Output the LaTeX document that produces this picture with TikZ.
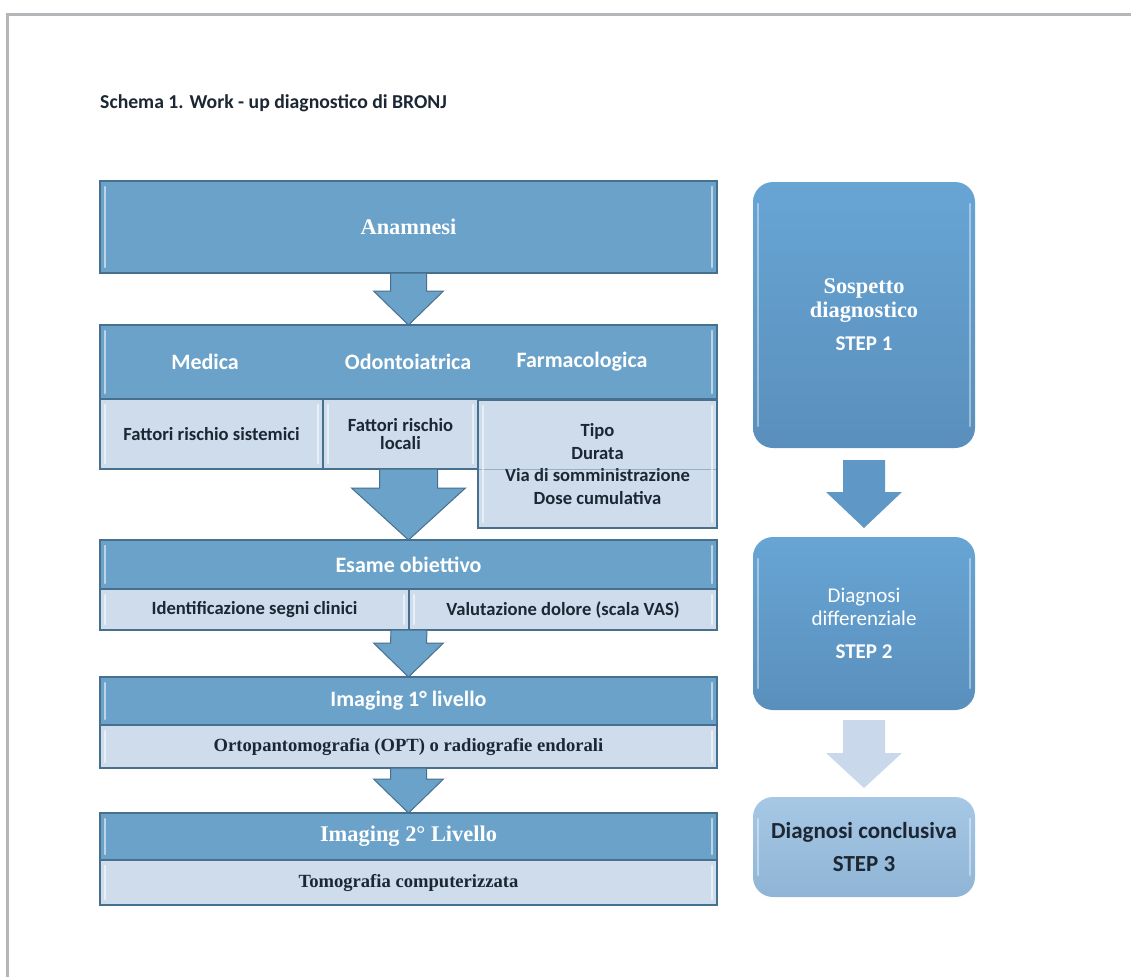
\documentclass[tikz,border=0pt]{standalone}
\usepackage{fontspec}
\newfontfamily\calfont{Carlito}
\newfontfamily\tnrfont{Liberation Serif}
\usetikzlibrary{calc}
\definecolor{hdr}{HTML}{6AA2C9}
\definecolor{cellc}{HTML}{CFDCEC}
\definecolor{edge}{HTML}{46708E}
\definecolor{darktext}{HTML}{1C2733}
\definecolor{framec}{HTML}{B4B7BA}
\definecolor{rtop}{HTML}{67A5D5}
\definecolor{rbot}{HTML}{5A8FBC}
\definecolor{ltop}{HTML}{A6C8E5}
\definecolor{lbot}{HTML}{8FB4D5}
\definecolor{rarrow}{HTML}{5F98C6}
\definecolor{larrow}{HTML}{C9D9EB}
\tikzset{
  base/.style={draw=edge, line width=1.2pt, inner sep=0pt, outer sep=0pt},
  hdrbox/.style={base, fill=hdr, text=white},
  cellbox/.style={base, fill=cellc, text=darktext},
  calhead/.style={font=\calfont\bfseries\fontsize{22}{24}\selectfont},
  tnrhead/.style={font=\tnrfont\bfseries\fontsize{22.4}{24}\selectfont},
  calsub/.style={font=\calfont\bfseries\fontsize{18.6}{18}\selectfont},
  tnrsub/.style={font=\tnrfont\bfseries\fontsize{18.6}{20}\selectfont},
  lbl/.style={inner sep=0pt, text=white},
  rbox/.style={rounded corners=20pt, top color=rtop, bottom color=rbot, inner sep=0pt, outer sep=0pt, text=white, align=center},
  gloss/.style={draw=white, opacity=0.55, line width=2.5pt, line cap=round},
  larr/.style={fill=hdr, draw=edge, line width=1pt, line join=miter},
  rarr/.style={fill=rarrow, draw=none},
  parr/.style={fill=larrow, draw=none},
}
\newcommand\blockarr[6]{%
  \filldraw[#6] ($#1+(-#3,0)$) -- ($#2+(-#3,-#5)$) -- ($#2+(-#4,-#5)$) -- #2
    -- ($#2+(#4,-#5)$) -- ($#2+(#3,-#5)$) -- ($#1+(#3,0)$) -- cycle;}
\begin{document}
\begin{tikzpicture}[x=1pt,y=-1pt]
\useasboundingbox (0,0) rectangle (1131,977);
\fill[white] (0,0) rectangle (1131,977);
\draw[framec, line width=3.5pt] (7.5,977) -- (7.5,14.5) -- (1131,14.5);

\node[anchor=west, inner sep=0pt, text=darktext, font=\calfont\bfseries\fontsize{19.7}{22}\selectfont] (title) at (100,103) {Schema 1. Work - up diagnostico di BRONJ};

% Anamnesi
\node[hdrbox, tnrhead, minimum width=617pt, minimum height=92pt] (anam) at (408.5,227) {Anamnesi};

% Anamnesi details
\node[hdrbox, minimum width=617pt, minimum height=74pt] (dethead) at (408.5,362) {};
\node[lbl, calhead] (medl) at (205,362) {Medica};
\node[lbl, calhead] (odol) at (408,362) {Odontoiatrica};
\node[lbl, calhead] (farml) at (582,362) {Farmacologica};
\node[cellbox, calsub, minimum width=223pt, minimum height=70pt] (med) at (211.5,434) {Fattori rischio sistemici};
\node[cellbox, calsub, align=center, minimum width=155pt, minimum height=70pt] (odo) at (400.5,434) {Fattori rischio\\locali};
\node[cellbox, font=\calfont\bfseries\fontsize{18.6}{22.5}\selectfont, align=center, minimum width=239pt, minimum height=128pt] (farm) at (597.5,464) {Tipo\\Durata\\Via di somministrazione\\Dose cumulativa};
\draw[edge, opacity=0.4, line width=1pt] (farm.west |- med.south) -- (farm.east |- med.south);

% Esame obiettivo
\node[hdrbox, calhead, minimum width=617pt, minimum height=49pt] (esh) at (408.5,564.5) {Esame obiettivo};
\node[cellbox, calsub, minimum width=309pt, minimum height=41pt] (ide) at (254.5,609.5) {Identificazione segni clinici};
\node[cellbox, calsub, minimum width=308pt, minimum height=41pt] (val) at (563,609.5) {Valutazione dolore (scala VAS)};

% Imaging 1
\node[hdrbox, calhead, minimum width=617pt, minimum height=48pt] (im1h) at (408.5,701) {Imaging 1° livello};
\node[cellbox, tnrsub, minimum width=617pt, minimum height=43pt] (im1s) at (408.5,746.5) {Ortopantomografia (OPT) o radiografie endorali};

% Imaging 2
\node[hdrbox, tnrhead, minimum width=617pt, minimum height=47pt] (im2h) at (408.5,836.5) {Imaging 2° Livello};
\node[cellbox, tnrsub, minimum width=617pt, minimum height=45pt] (im2s) at (408.5,882.5) {Tomografia computerizzata};

% gloss highlights
\foreach \n in {anam,dethead,med,odo,farm,esh,ide,val,im1h,im1s,im2h,im2s}{
  \draw[gloss] ($(\n.north west)+(5,6)$) -- ($(\n.south west)+(5,-6)$);
  \draw[gloss] ($(\n.north east)+(-5,6)$) -- ($(\n.south east)+(-5,-6)$);
}

% left arrows
\coordinate (a2s) at (dethead.south |- odo.south);
\blockarr{(anam.south)}{(dethead.north)}{18}{35}{34}{larr}
\blockarr{(a2s)}{(esh.north)}{29}{57}{52}{larr}
\blockarr{(ide.south east)}{(im1h.north)}{18}{35}{34}{larr}
\blockarr{(im1s.south)}{(im2h.north)}{18}{35}{34}{larr}

% right column
\node[rbox, font=\fontsize{22.4}{24}\selectfont, minimum width=222pt, minimum height=266pt] (s1) at (864,315)
  {\tnrfont\bfseries Sospetto\\\tnrfont\bfseries diagnostico\\[9pt]\calfont\bfseries\fontsize{21}{24}\selectfont STEP 1};
\node[rbox, font=\calfont\fontsize{21}{23}\selectfont, minimum width=222pt, minimum height=173pt] (s2) at (864,623.5)
  {Diagnosi\\differenziale\\[10pt]\bfseries STEP 2};
\node[rbox, top color=ltop, bottom color=lbot, text=darktext, font=\calfont\bfseries\fontsize{23}{33}\selectfont, minimum width=222pt, minimum height=100pt] (s3) at (864,847)
  {Diagnosi conclusiva\\STEP 3};
\foreach \n in {s1,s2,s3}{
  \draw[gloss, opacity=0.4] ($(\n.north west)+(5,22)$) -- ($(\n.south west)+(5,-22)$);
  \draw[gloss, opacity=0.4] ($(\n.north east)+(-5,22)$) -- ($(\n.south east)+(-5,-22)$);
}
\coordinate (r1s) at ($(s1.south)+(0,12)$);
\coordinate (r1e) at ($(s2.north)+(0,-9)$);
\coordinate (r2s) at ($(s2.south)+(0,10)$);
\coordinate (r2e) at ($(s3.north)+(0,-9)$);
\blockarr{(r1s)}{(r1e)}{21}{38}{36}{rarr}
\blockarr{(r2s)}{(r2e)}{21}{38}{35}{parr}
\end{tikzpicture}
\end{document}
